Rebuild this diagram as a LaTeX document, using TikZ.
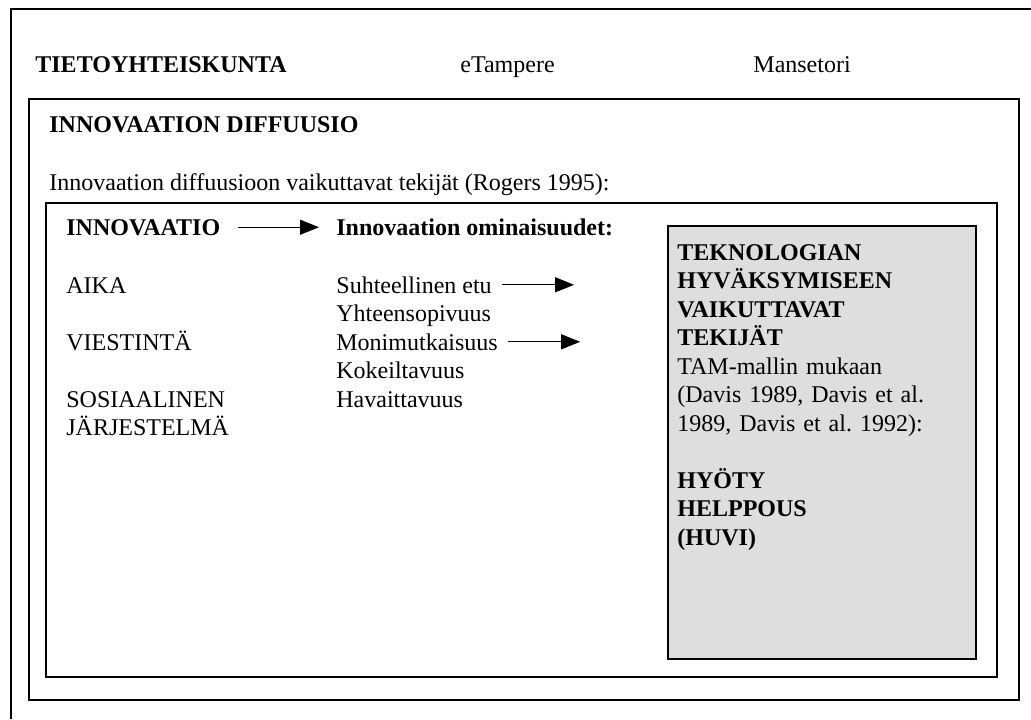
\documentclass[tikz,border=0pt]{standalone}
\usepackage{fontspec}
\setmainfont{Liberation Serif}
\usetikzlibrary{arrows.meta, positioning, calc}
\definecolor{boxgrey}{gray}{0.87}

\begin{document}
\begin{tikzpicture}[x=0.5pt, y=-0.5pt, >=Stealth,
  txt/.style={anchor=base west, inner sep=0pt,
              font=\fontsize{12pt}{14.25pt}\selectfont\frenchspacing},
  hd/.style={txt, font=\fontsize{12pt}{14.25pt}\selectfont\frenchspacing\bfseries},
  frame/.style={draw, line width=0.85pt},
  arr/.style={-{Triangle[length=9.5pt, width=7.5pt]}, line width=0.6pt}]
  \useasboundingbox (0,0) rectangle (1031,719);

  % frames
  \draw[frame] (11,719) -- (11,9) -- (1031,9);
  \draw[frame] (29,99) rectangle (1019,700);
  \draw[frame] (46,203) rectangle (997,677);
  \draw[frame, fill=boxgrey] (668,226) rectangle (976,659);

  % headings
  \node[hd] (tieto) at (35,72) {TIETOYHTEISKUNTA};
  \node[txt] (etampere) at (460,72) {eTampere};
  \node[txt] (manse) at (753,72) {Mansetori};
  \node[hd] (diff) at (49,132) {INNOVAATION DIFFUUSIO};
  \node[txt] (rogers) at (49,190)
    {Innovaation diffuusioon vaikuttavat tekijät (Rogers 1995):};

  % left column
  \node[hd] (innov) at (66,235) {INNOVAATIO};
  \node[txt] (aika) at (66,293) {AIKA};
  \node[txt] (viest) at ([yshift=-28.5pt]aika.base west) {VIESTINTÄ};
  \node[txt] (sos) at ([yshift=-28.5pt]viest.base west) {SOSIAALINEN};
  \node[txt] (jarj) at ([yshift=-14.25pt]sos.base west) {JÄRJESTELMÄ};

  % characteristics
  \node[hd] (omin) at (336,235) {Innovaation ominaisuudet:};
  \node[txt] (suht) at (336,293) {Suhteellinen etu};
  \node[txt] (yht) at ([yshift=-14.25pt]suht.base west) {Yhteensopivuus};
  \node[txt] (monim) at ([yshift=-14.25pt]yht.base west) {Monimutkaisuus};
  \node[txt] (kokeil) at ([yshift=-14.25pt]monim.base west) {Kokeiltavuus};
  \node[txt] (havait) at ([yshift=-14.25pt]kokeil.base west) {Havaittavuus};

  \draw[arr, shorten <=8.5pt, shorten >=8.5pt] (innov.east) -- (innov.east -| omin.west);
  \coordinate (suhtend) at ([xshift=41pt]suht.east);
  \coordinate (monimend) at ([xshift=41pt]monim.east);
  \draw[arr, shorten <=5pt] (suht.east) -- (suhtend);
  \draw[arr, shorten <=5pt] (monim.east) -- (monimend);

  % TAM box
  \node[hd, anchor=north west, text width=142.5pt, align=left] (tam) at (677,244)
    {TEKNOLOGIAN\\HYVÄKSYMISEEN\\VAIKUTTAVAT\\TEKIJÄT\\
     {\mdseries TAM-mallin mukaan}\\
     {\mdseries\makebox[142.5pt][s]{(Davis 1989, Davis et al.}}\\
     {\mdseries 1989, Davis et al. 1992):}\\[14.25pt]
     HYÖTY\\HELPPOUS\\(HUVI)};
\end{tikzpicture}
\end{document}
